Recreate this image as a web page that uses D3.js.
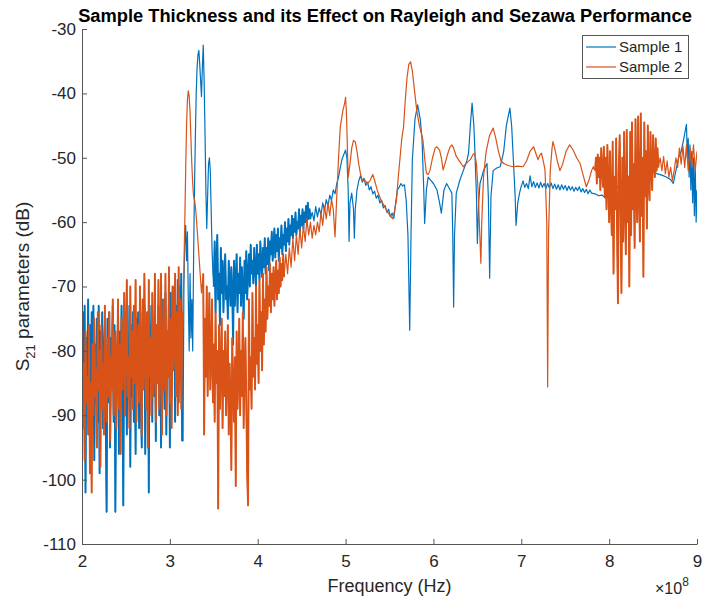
<!DOCTYPE html>
<html>
<head>
<meta charset="utf-8">
<script src="https://cdn.jsdelivr.net/npm/d3@7"></script>
<style>
  body { margin: 0; background: #fff; }
  text { font-family: "Liberation Sans", Arial, Helvetica, sans-serif; fill: #262626; }
</style>
</head>
<body>
<svg id="chart" width="702" height="600"></svg>
<script>
// frequencies are in units of 1e8 Hz, values in dB
// noisy stretches are stored as evenly sampled values (start, step), the rest as [freq, dB] pairs

// Sample 1 (blue)
var s1LowStart = 2.00, s1LowStep = 0.01;
var s1Low = [
  -80,-74,-92,-73,-102,-78,-85,-72,-89,-76,
  -93,-74,-84,-73,-97,-79,-88,-75,-91,-73,
  -99,-77,-86,-74,-92,-80,-76,-90,-105,-75,
  -88,-74,-95,-78,-83,-73,-91,-76,-105,-79,
  -86,-74,-96,-77,-89,-73,-84,-104,-76,-90,
  -74,-93,-79,-85,-73,-98,-76,-87,-74,-91,
  -77,-96,-75,-83,-74,-92,-78,-88,-95,-74,
  -85,-73,-96,-77,-89,-74,-102,-76,-84,-73,
  -91,-75,-87,-72,-94,-78,-83,-73,-90,-76,
  -95,-72,-86,-74,-89,-71,-93,-77,-84,-72,
  -95,-71,-87,-74,-82,-70,-91,-73,-85,-69,
  -88,-70,-83,-68,-94];
var s1Peak = [[3.15,-94],[3.16,-70],[3.17,-63],[3.18,-60.5],[3.19,-66],[3.20,-61.5],[3.21,-72],[3.22,-80],
  [3.23,-68],[3.24,-78],[3.25,-72],[3.26,-80],[3.27,-66],[3.28,-55],[3.29,-47],[3.30,-40],[3.31,-36],
  [3.32,-34],[3.33,-33.3],[3.34,-35.5],[3.35,-38],[3.36,-40.5],[3.37,-36],[3.38,-32.5],[3.39,-38],
  [3.40,-46],[3.41,-55],[3.42,-61],[3.43,-56],[3.44,-51],[3.45,-50],[3.46,-52],[3.47,-58],[3.48,-64],[3.49,-68]];
var s1MidStart = 3.50, s1MidStep = 0.01;
var s1Mid = [
  -70,-63,-74,-66,-62,-72,-68,-76,-64,-71,
  -66,-74,-68,-65,-72,-70,-75,-66,-69,-73,
  -67,-71,-79,-66,-73,-69,-65,-74,-68,-71,
  -65.5,-73,-67,-70,-75,-66,-71,-64.5,-72,-68,
  -65,-70,-63.5,-68,-66,-69.5,-64,-67,-70,-63.5,
  -68,-65,-69,-63,-66.5,-68.5,-64,-67,-62.5,-68,
  -64,-66.5,-62.5,-67.5,-63,-65,-61.5,-66,-63.5,-61,
  -65.5,-62,-64.5,-61,-66,-62.5,-64,-60.5,-65,-62,
  -63.5,-60,-64.5,-61,-63,-59.5,-63.5,-60.5,-62,-59,
  -62.5,-59.5,-61.5,-58.5,-62,-60,-61,-58,-61.5,-59,
  -60.5,-58,-61,-58.5,-60,-57.5,-60.5,-57,-59.5,-58,
  -59.5];
var s1Flat = [[4.62,-58.5],[4.64,-59.8],[4.66,-57.6],[4.68,-59.2],[4.70,-57.8],[4.72,-58.9],[4.74,-57],
  [4.76,-58.2],[4.78,-56.5],[4.80,-57.5],[4.82,-55.8],[4.84,-56.6],[4.86,-55],[4.88,-55.6],[4.90,-54],
  [4.92,-53],[4.94,-51.5],[4.96,-50.2],[4.98,-49.5],[5.00,-48.8],[5.015,-50],[5.03,-55],[5.04,-63],
  [5.05,-57],[5.07,-55.5],[5.09,-58],[5.10,-62.5],[5.11,-58],[5.13,-55],[5.15,-53.6],[5.17,-52.8],
  [5.19,-53.8],[5.21,-53.2],[5.23,-54.3],[5.25,-53.8],[5.27,-55],[5.29,-54.5],[5.31,-55.6],[5.33,-55.2],
  [5.35,-56.3],[5.37,-55.8],[5.39,-57],[5.41,-56.6],[5.43,-57.8],[5.45,-57.4],[5.47,-58.5],[5.49,-58],
  [5.51,-59.2],[5.53,-58.6],[5.55,-59.4],[5.57,-57],[5.59,-55],[5.61,-54.6],[5.63,-54],[5.65,-54.4],
  [5.67,-54.2],[5.69,-56.6],[5.71,-62],[5.73,-76.8],[5.745,-62],[5.76,-50.3],[5.79,-44],[5.82,-41.8],
  [5.85,-44],[5.87,-47],[5.89,-55],[5.90,-60.2],[5.92,-55],[5.94,-53],[5.97,-53.5],[6.00,-54],
  [6.04,-55],[6.07,-57],[6.09,-58.6],[6.12,-55],[6.15,-54],[6.19,-55],[6.21,-55.5],[6.22,-62],
  [6.23,-73.2],[6.24,-62],[6.26,-55.5],[6.30,-53.5],[6.34,-52],[6.38,-50.5],[6.40,-49.3],[6.42,-45],
  [6.44,-41.5],[6.46,-45],[6.47,-48.3],[6.49,-56],[6.50,-63.3],[6.515,-57],[6.53,-54],[6.57,-52],
  [6.61,-50.9],[6.625,-56],[6.64,-68.7],[6.655,-56],[6.68,-52],[6.72,-51.6],[6.76,-51.4],[6.80,-49],
  [6.83,-45],[6.87,-42.3],[6.89,-45],[6.91,-50.3],[6.93,-56],[6.94,-60.5],[6.96,-57],[6.98,-55.5],
  [7.00,-54.4],[7.02,-53.6],[7.04,-54.6],[7.06,-54],[7.08,-54.8],[7.10,-52.8],[7.12,-54.5],[7.14,-53.7],
  [7.16,-54.6],[7.18,-53.9],[7.20,-54.7],[7.22,-53.8],[7.24,-54.6],[7.26,-54],[7.28,-54.8],[7.30,-54],
  [7.32,-54.7],[7.34,-53.9],[7.36,-54.8],[7.38,-54.1],[7.40,-54.9],[7.42,-54.2],[7.44,-55],[7.46,-54.2],
  [7.48,-54.9],[7.50,-54.3],[7.52,-55.1],[7.54,-54.4],[7.56,-55],[7.58,-54.5],[7.60,-55.2],[7.62,-54.6],
  [7.64,-55.1],[7.66,-54.5],[7.68,-55.3],[7.70,-54.8],[7.72,-55.4],[7.74,-54.9],[7.76,-55.6],[7.78,-55],
  [7.80,-55.5]];
var s1End = [[7.84,-55.6],[7.88,-55.9],[7.92,-55.8],[7.96,-56.3],[8.00,-56],[8.04,-55.6],[8.08,-54.8],
  [8.12,-54.2],[8.16,-53.5],[8.20,-53.1],[8.25,-52.6],[8.30,-52.4],[8.35,-52],[8.40,-51.9],[8.45,-52.1],
  [8.50,-52.2],[8.55,-52.5],[8.60,-52.7],[8.65,-53],[8.70,-53.4],[8.73,-54],[8.76,-52],[8.79,-50],
  [8.82,-49],[8.85,-47],[8.87,-45.5],[8.88,-44.8],[8.89,-50],[8.90,-47],[8.91,-53],[8.92,-48],
  [8.93,-55],[8.94,-49],[8.95,-57],[8.96,-50],[8.97,-59],[8.98,-51],[8.99,-60],[9.00,-55]];

// Sample 2 (orange)
var s2LowStart = 2.00, s2LowStep = 0.01;
var s2Low = [
  -78,-92,-82,-97,-77,-88,-84,-93,-76,-99,
  -85,-102,-79,-90,-75,-87,-83,-95,-74,-86,
  -80,-98,-76,-89,-82,-93,-73,-85,-91,-78,
  -87,-74,-94,-81,-86,-72,-90,-83,-77,-92,
  -84,-72,-89,-79,-96,-75,-86,-82,-71,-90,
  -78,-69,-87,-81,-92,-70,-84,-77,-89,-73,
  -85,-69,-91,-80,-76,-88,-70,-83,-93,-72,
  -86,-68,-80,-89,-74,-95,-69,-84,-78,-90,
  -71,-87,-82,-68,-91,-76,-85,-69,-89,-79,
  -68,-93,-81,-72,-86,-68,-90,-77,-84,-67,
  -88,-75,-92,-70,-83,-79,-68,-87,-74,-90,
  -67,-84,-72,-89,-74];
var s2Peak = [[3.15,-74],[3.16,-67],[3.17,-60],[3.18,-52],[3.19,-45],[3.20,-41],[3.21,-39.6],[3.22,-40.5],
  [3.23,-43],[3.24,-47],[3.25,-51],[3.26,-54],[3.27,-56],[3.28,-56.5],[3.29,-57.5],[3.30,-59],[3.31,-61],
  [3.32,-63],[3.33,-65],[3.34,-67],[3.35,-69],[3.36,-71]];
var s2DipStart = 3.38, s2DipStep = 0.01;
var s2Dip = [
  -68,-93,-75,-84,-70,-87,-78,-71,-86,-81,
  -72,-88,-79,-91,-74,-85,-80,-104.5,-76,-89,
  -83,-75,-92,-80,-87,-77,-90,-84,-76,-93,
  -82,-88,-98.5,-78,-86,-91,-81,-101,-77,-89,
  -84,-75,-90,-80,-87,-74,-92,-83,-78,-88,
  -99,-104,-72,-86,-81,-89,-71,-84,-78,-86,
  -70,-82,-76,-85,-69,-80,-74,-83,-68,-79,
  -72,-77,-67,-75,-70,-73,-66.5,-74,-68,-72,
  -67,-73,-69,-66,-72,-67.5,-71,-65.5,-70,-66.5,
  -69,-65,-68.5];
var s2RiseStart = 4.32, s2RiseStep = 0.02;
var s2Rise = [-65,-68,-64,-67,-62.5,-66,-62,-65,-61,-64,-60.5,-63,-59.5,-62,-60,-62.5,-60.5,-62,-60,-61.5,
  -58.5,-60.5,-57.5,-59.5,-57,-59,-56.5,-58];
var s2Flat = [[4.88,-62.3],[4.90,-56],[4.92,-50],[4.94,-45.2],[4.96,-43.5],[4.97,-42.6],[4.99,-41.5],
  [5.00,-40.6],[5.01,-43],[5.02,-48],[5.03,-53],[5.05,-51],[5.07,-48.5],[5.09,-47.3],[5.11,-47.5],
  [5.13,-49],[5.15,-51],[5.17,-52.5],[5.19,-53.5],[5.22,-53.5],[5.25,-54],[5.28,-53.5],[5.31,-52.6],
  [5.33,-53.5],[5.36,-55],[5.40,-56.5],[5.44,-57.5],[5.48,-58.5],[5.52,-59.2],[5.54,-59.5],[5.56,-58],
  [5.58,-56.5],[5.60,-53],[5.62,-50],[5.64,-47],[5.66,-45.2],[5.68,-41],[5.70,-37.5],[5.72,-35.5],
  [5.74,-35.1],[5.76,-36.5],[5.78,-39],[5.81,-42.6],[5.84,-45],[5.88,-47.2],[5.90,-50],[5.92,-52.4],
  [5.94,-52.6],[5.96,-52],[5.99,-50],[6.02,-48.5],[6.04,-48.3],[6.07,-48.8],[6.09,-50],[6.11,-51.9],
  [6.13,-51],[6.16,-49.5],[6.19,-48.3],[6.21,-48],[6.23,-48.5],[6.26,-49.8],[6.30,-50.6],[6.34,-51.4],
  [6.38,-50.8],[6.42,-50.3],[6.45,-49.5],[6.47,-49.3],[6.49,-51],[6.51,-55.5],[6.525,-61],[6.54,-66.4],
  [6.55,-60],[6.57,-53],[6.60,-49],[6.64,-46.5],[6.68,-45.4],[6.71,-47],[6.74,-49],[6.77,-50.5],
  [6.80,-50.9],[6.85,-51.2],[6.91,-51.4],[6.96,-51.3],[7.02,-51.4],[7.06,-50.5],[7.10,-49],[7.14,-48.3],
  [7.17,-49.5],[7.19,-50.3],[7.21,-49.6],[7.23,-49.3],[7.25,-50.5],[7.27,-51.9],[7.29,-60],[7.30,-85.6],
  [7.31,-62],[7.33,-52],[7.35,-48.5],[7.36,-47.5],[7.38,-48.5],[7.41,-50.5],[7.44,-52],[7.47,-51],
  [7.51,-49],[7.55,-48],[7.59,-48.8],[7.63,-50],[7.67,-50.9],[7.70,-52.5],[7.74,-54.5],[7.77,-53.5],
  [7.80,-52],[7.82,-51.4]];
var s2BurstStart = 7.84, s2BurstStep = 0.01;
var s2Burst = [
  -52,-50,-54,-49.5,-53,-50,-55,-48.5,-52,-54.5,
  -48.3,-56,-50,-58,-48,-54,-60,-49,-57,-62,
  -47.5,-68,-53,-58,-47,-61,-72.6,-52,-46.5,-59,
  -71,-50,-63,-46,-57,-65,-45.7,-60,-53,-70,
  -46,-62,-44.5,-58,-51,-64,-44,-56,-60,-43.6,
  -55,-63,-43.1,-59,-50,-68.5,-44.5,-56,-49,-61,
  -45,-54,-56.6,-46,-52,-55,-46.5,-51,-53,-47,
  -52,-48.5,-51.5];
var s2End = [[8.58,-50],[8.60,-52],[8.62,-49.8],[8.64,-52.5],[8.66,-50.5],[8.68,-53],[8.70,-51.5],
  [8.72,-53.5],[8.74,-52],[8.76,-50],[8.78,-51.5],[8.80,-48.5],[8.82,-51],[8.84,-48.2],[8.86,-51.5],
  [8.88,-48],[8.90,-52],[8.92,-48.5],[8.94,-51.5],[8.96,-48],[8.98,-52],[9.00,-49]];

var xTicks = [2,3,4,5,6,7,8,9];
var yTicks = [-30,-40,-50,-60,-70,-80,-90,-100,-110];
var seriesNames = ["Sample 1","Sample 2"];
var colors = ["#0072BD","#D95319"];

var fromSteps = function(start, step, vals){
    return vals.map(function(v,i){ return [start + i*step, v]; });
};

var noisy1 = [fromSteps(s1LowStart, s1LowStep, s1Low), fromSteps(s1MidStart, s1MidStep, s1Mid)];
var noisy2 = [fromSteps(s2LowStart, s2LowStep, s2Low), fromSteps(s2DipStart, s2DipStep, s2Dip),
    fromSteps(s2BurstStart, s2BurstStep, s2Burst)];

var sample1 = [].concat(noisy1[0], s1Peak, noisy1[1], s1Flat, s1End);
var sample2 = [].concat(noisy2[0], s2Peak, noisy2[1], fromSteps(s2RiseStart, s2RiseStep, s2Rise), s2Flat,
    noisy2[2], s2End);

var margin = {left: 82, top: 29, right: 5, bottom: 56};
var width = 702, height = 600;

var svg = d3.select("#chart");

var xScale = d3.scaleLinear().domain([2,9]).range([margin.left, width - margin.right]);
var yScale = d3.scaleLinear().domain([-110,-30]).range([height - margin.bottom, margin.top]);

svg.append("clipPath").attr("id","plotclip")
    .append("rect")
    .attr("x", margin.left).attr("y", margin.top)
    .attr("width", xScale(9) - xScale(2)).attr("height", yScale(-110) - yScale(-30));

var linegen = d3.line()
    .x(function(d){ return xScale(d[0]); })
    .y(function(d){ return yScale(d[1]); });

var plot = svg.append("g").attr("clip-path","url(#plotclip)");
[[sample1, noisy1], [sample2, noisy2]].forEach(function(pair, i){
    plot.append("path")
        .datum(pair[0])
        .attr("d", linegen)
        .attr("fill","none")
        .attr("stroke", colors[i])
        .attr("stroke-width", 1.2)
        .attr("stroke-linejoin","round");
    // the raw trace is far denser than the stored samples, so the noisy stretches get a heavier stroke
    plot.selectAll(null)
        .data(pair[1])
        .enter()
        .append("path")
        .attr("d", linegen)
        .attr("fill","none")
        .attr("stroke", colors[i])
        .attr("stroke-width", 1.9)
        .attr("stroke-linejoin","round");
});

// axes, ticks pointing inward like MATLAB
var xAxis = d3.axisBottom(xScale).tickValues(xTicks).tickSizeInner(-5).tickSizeOuter(0).tickPadding(11)
    .tickFormat(d3.format("d"));
var yAxis = d3.axisLeft(yScale).tickValues(yTicks).tickSizeInner(-5).tickSizeOuter(0).tickPadding(6)
    .tickFormat(function(d){ return String(d); });

var gx = svg.append("g").attr("transform","translate(0," + yScale(-110) + ")").call(xAxis);
var gy = svg.append("g").attr("transform","translate(" + xScale(2) + ",0)").call(yAxis);
[gx, gy].forEach(function(g){
    g.select(".domain").attr("stroke","#555").attr("stroke-width",1);
    g.selectAll(".tick line").attr("stroke","#555");
    g.selectAll(".tick text").style("font-size","17px").attr("fill","#262626");
});

svg.append("text")
    .attr("x", 385).attr("y", 22)
    .attr("text-anchor","middle")
    .style("font-size","18.3px").style("font-weight","bold")
    .style("fill","#000")
    .text("Sample Thickness and its Effect on Rayleigh and Sezawa Performance");

svg.append("text")
    .attr("x", (xScale(2) + xScale(9)) / 2).attr("y", 592)
    .attr("text-anchor","middle")
    .style("font-size","18px")
    .text("Frequency (Hz)");

var expo = svg.append("text").attr("x", 655).attr("y", 594).style("font-size","16px");
expo.append("tspan").text("\u00d710");
expo.append("tspan").attr("dy", -8).style("font-size","12px").text("8");

var ylab = svg.append("text")
    .attr("transform","translate(29," + ((yScale(-30) + yScale(-110)) / 2) + ") rotate(-90)")
    .attr("text-anchor","middle")
    .style("font-size","19px");
ylab.append("tspan").text("S");
ylab.append("tspan").attr("dy", 6).style("font-size","13px").text("21");
ylab.append("tspan").attr("dy", -6).text(" parameters (dB)");

// legend
var legend = svg.append("g");
legend.append("rect")
    .attr("x", 582.5).attr("y", 35.5).attr("width", 106).attr("height", 43)
    .attr("fill","#fff").attr("stroke","#555").attr("stroke-width",1);
seriesNames.forEach(function(name, i){
    var ly = 47 + i * 20;
    legend.append("line")
        .attr("x1", 586).attr("x2", 616).attr("y1", ly).attr("y2", ly)
        .attr("stroke", colors[i]).attr("stroke-width", 1.2);
    legend.append("text")
        .attr("x", 619).attr("y", ly + 5)
        .style("font-size","15px")
        .text(name);
});
</script>
</body>
</html>
